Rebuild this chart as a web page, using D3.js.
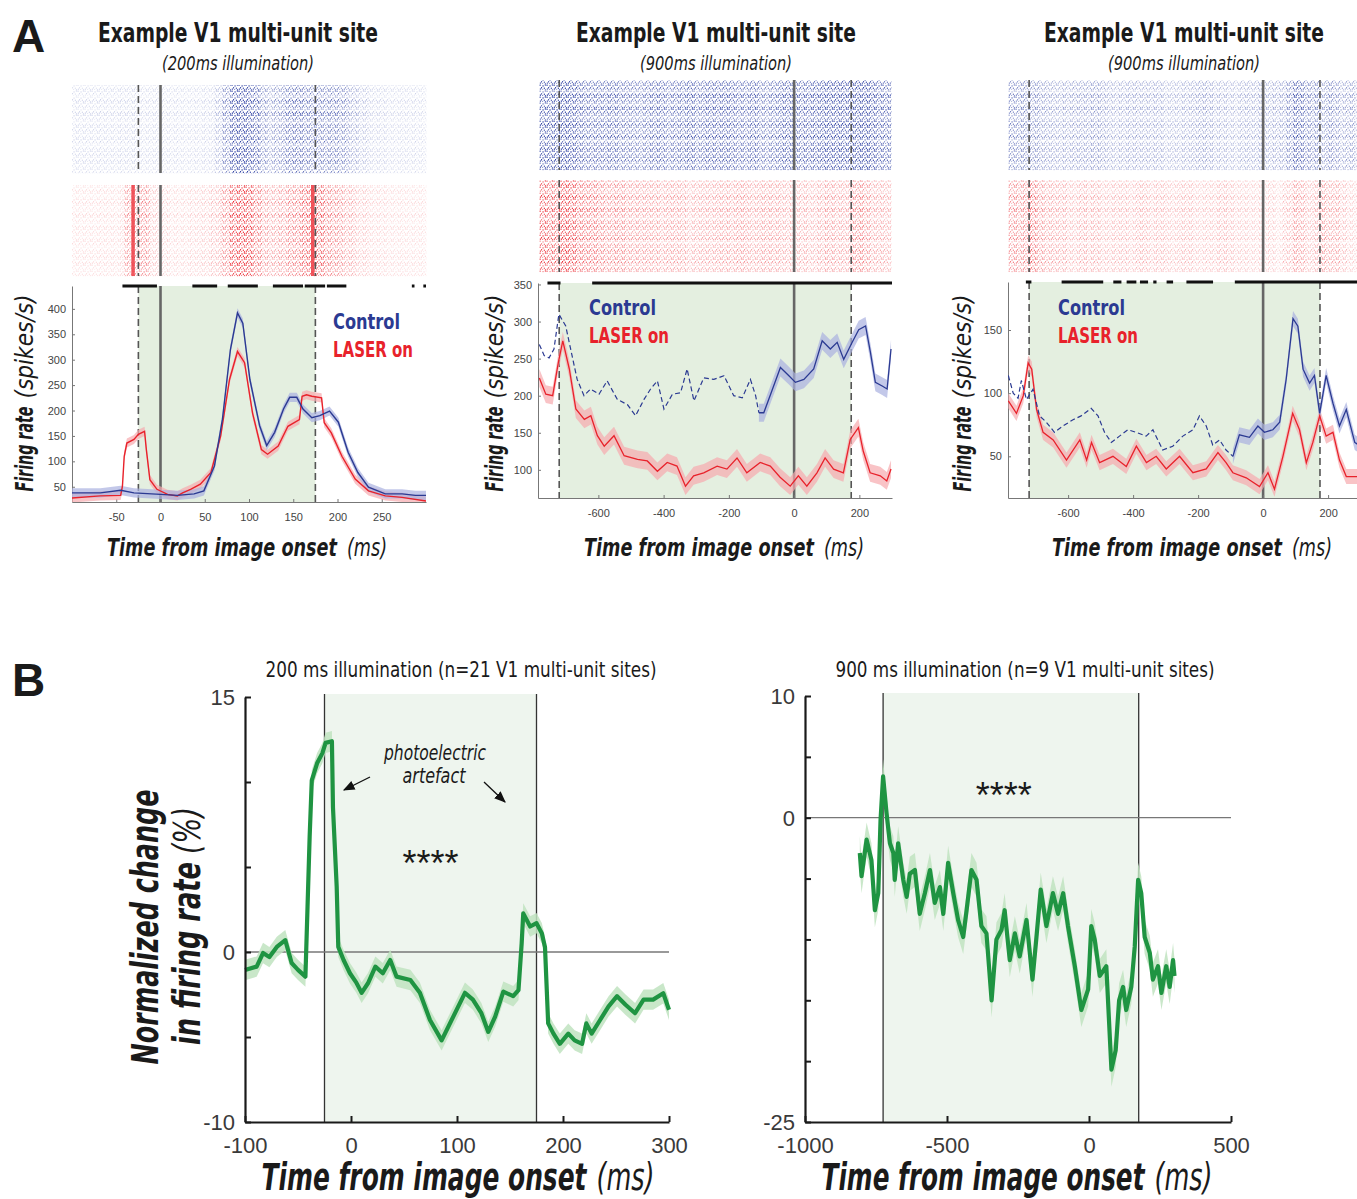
<!DOCTYPE html>
<html lang="en">
<head>
<meta charset="utf-8">
<title>V1 laser figure</title>
<script src="https://cdnjs.cloudflare.com/ajax/libs/d3/7.8.5/d3.min.js"></script>
<style>
  body { margin: 0; background: #fff; }
  svg { display: block; }
</style>
</head>
<body>
<script>
// ---------- data ----------
// panel A1 : 200 ms illumination, PSTH [time ms, spikes/s]
var a1Control = [[-100,38],[-68,38],[-45,43],[-30,38],[0,35],[19,33],[38,36],[49,42],[61,91],[70,183],[79,320],[87,392],[93,372],[101,261],[112,170],[120,131],[129,157],[139,203],[146,226],[154,226],[161,203],[171,186],[180,190],[191,199],[201,177],[212,118],[223,78],[235,49],[254,36],[273,36],[288,33],[300,33]];
var a1Laser = [[-100,28],[-68,32],[-45,33],[-43,51],[-41,110],[-38,136],[-30,143],[-25,153],[-18,159],[-16,123],[-12,64],[-4,45],[8,35],[19,32],[25,38],[34,45],[45,55],[57,78],[68,150],[78,261],[87,316],[95,294],[104,195],[114,123],[121,114],[133,130],[144,169],[157,182],[160,228],[165,231],[171,228],[182,225],[185,176],[193,156],[205,110],[220,65],[235,42],[254,32],[273,29],[300,22]];
var a1Sig = [[-43,-4],[36,64],[76,110],[127,161],[163,186],[188,210],[284,287],[297,300]];
var a1Artifacts = [-31, 172];
var a1XTicks = [-50, 0, 50, 100, 150, 200, 250];
var a1YTicks = [50, 100, 150, 200, 250, 300, 350, 400];

// panel A2 : 900 ms illumination
var a2Control = [[-781,269],[-766,254],[-751,251],[-736,263],[-721,310],[-700,294],[-685,263],[-665,222],[-644,200],[-624,209],[-598,202],[-573,220],[-542,195],[-511,188],[-486,173],[-460,195],[-440,209],[-419,220],[-399,182],[-373,202],[-348,204],[-328,236],[-307,193],[-277,224],[-246,222],[-215,227],[-185,200],[-159,197],[-134,222],[-118,200],[-108,177],[-93,177],[-72,202],[-42,238],[-16,227],[4,218],[30,222],[60,236],[86,274],[111,263],[132,272],[152,249],[178,272],[198,289],[219,294],[234,258],[249,218],[270,213],[285,209],[297,263]];
var a2Laser = [[-781,224],[-761,202],[-740,200],[-723,244],[-709,274],[-689,236],[-669,182],[-643,168],[-623,173],[-603,146],[-582,132],[-552,146],[-521,119],[-480,114],[-450,112],[-419,98],[-389,110],[-359,105],[-333,78],[-308,92],[-277,96],[-236,105],[-206,101],[-175,116],[-145,96],[-104,110],[-73,105],[-43,90],[-12,78],[13,92],[39,78],[70,96],[95,116],[121,101],[151,96],[172,141],[197,157],[212,125],[233,96],[264,92],[284,85],[297,101]];
var a2Sig = [[-756,-716],[-619,300]];
var a2YTicks = [100, 150, 200, 250, 300, 350];

// panel A3 : 900 ms illumination
var a3Control = [[-784,114],[-769,100],[-754,96],[-744,110],[-728,95],[-708,103],[-688,82],[-667,77],[-642,69],[-616,74],[-585,79],[-560,82],[-529,88],[-508,82],[-488,69],[-467,61],[-442,66],[-416,71],[-391,69],[-360,66],[-339,71],[-309,55],[-278,58],[-247,66],[-216,71],[-196,82],[-175,74],[-155,59],[-134,63],[-114,55],[-93,50],[-73,67],[-42,65],[-16,74],[4,69],[30,71],[51,77],[71,111],[92,159],[107,153],[123,119],[143,108],[158,114],[174,84],[194,114],[215,92],[235,74],[256,87],[282,61],[300,58]];
var a3Laser = [[-784,94],[-759,84],[-738,98],[-723,124],[-712,119],[-697,87],[-677,69],[-646,63],[-605,47],[-564,63],[-543,47],[-528,61],[-503,45],[-462,50],[-421,42],[-390,58],[-359,45],[-329,50],[-298,40],[-257,50],[-216,37],[-175,40],[-139,53],[-114,45],[-93,37],[-52,33],[-11,26],[15,37],[35,24],[61,50],[91,84],[112,71],[133,45],[153,61],[174,82],[194,66],[215,69],[235,47],[256,34],[300,34]];
var a3Sig = [[-730,-713],[-620,-492],[-461,-436],[-420,-390],[-379,-354],[-338,-328],[-297,-277],[-236,-154],[-87,300]];
var a3YTicks = [50, 100, 150];
var a23XTicks = [-600, -400, -200, 0, 200];

// panel B : normalized change in firing rate (%)
var b1Change = [[-100,-1.06],[-89,-0.86],[-83,-0.06],[-77,-0.3],[-70,0.3],[-62,0.7],[-56,-0.65],[-50,-1.05],[-43,-1.45],[-41,2.67],[-39,6.8],[-37,10.1],[-32,11.1],[-27,11.7],[-24,12.3],[-18,12.4],[-17,8.5],[-13.5,3.85],[-12,0.3],[-7,-0.47],[-1,-1.25],[5,-1.8],[10,-2.4],[16,-1.84],[23,-0.86],[30,-1.25],[37,-0.47],[43,-1.45],[56,-1.65],[65,-2.4],[74.5,-4.0],[85.5,-5.2],[96.5,-3.8],[107.5,-2.4],[115,-2.8],[123,-3.6],[129.5,-4.7],[136,-3.8],[143.7,-2.33],[153,-2.6],[158,-2.24],[161,0.5],[162.5,2.27],[169,1.5],[175,1.7],[180,1.1],[183,0.3],[186,-4.2],[191,-4.8],[197,-5.4],[205,-4.8],[211,-5.2],[218,-5.4],[222,-4.2],[227,-4.8],[235,-4],[243,-3.2],[251,-2.6],[259,-3.1],[268,-3.6],[276,-2.8],[285,-2.8],[294.6,-2.43],[300,-3.4]];
var b2Change = [[-807,-2.9],[-801,-4.8],[-783,-1.8],[-766,-3.5],[-754,-7.6],[-742,-6.2],[-734,-0.2],[-725,3.4],[-713,0.4],[-701,-2.1],[-689,-2.9],[-684,-5.1],[-672,-2.1],[-654,-5.1],[-642,-6.5],[-631,-4.6],[-613,-4.3],[-596,-7.9],[-578,-6.2],[-560,-4.3],[-543,-7.0],[-525,-5.7],[-513,-7.9],[-496,-3.7],[-478,-6.2],[-461,-8.4],[-443,-9.8],[-431,-7.6],[-414,-4.3],[-396,-5.1],[-379,-8.9],[-361,-9.5],[-343,-15.0],[-326,-10.0],[-308,-9.2],[-297,-7.6],[-279,-11.7],[-261,-9.5],[-244,-11.4],[-220,-8.4],[-199,-13.3],[-185,-9.8],[-170,-5.9],[-150,-8.9],[-127,-6.2],[-109,-7.9],[-91,-6.2],[-74,-8.9],[-50,-12.2],[-27,-15.8],[-3,-14.1],[8,-8.9],[20,-10.0],[38,-13.0],[61,-12.2],[79,-20.7],[94,-19.1],[106,-15.0],[120,-13.9],[131,-15.8],[149,-13.9],[161,-10.6],[173,-5.1],[184,-6.2],[196,-9.8],[214,-11.1],[225,-13.3],[243,-12.2],[255,-14.4],[272,-12.2],[284,-13.9],[296,-11.7],[301,-13.0]];
var b1XTicks = [-100, 0, 100, 200, 300];
var b1YTicks = [-10, -5, 0, 5, 10, 15];
var b1YLabels = [-10, 0, 15];
var b2XTicks = [-1000, -500, 0, 500];
var b2YTicks = [-25, -20, -15, -10, -5, 0, 5, 10];
var b2YLabels = [-25, 0, 10];

// raster texture: per-trial gain and dot layout of one tile
var trialGain = [0.9, 1.1, 0.7, 1.25, 1.0, 0.8, 1.3, 0.95, 0.75, 1.15, 1.05, 0.85, 1.25, 0.7, 1.0, 1.1, 0.9, 1.2, 0.8, 1.0];
var patternDots = [[0.5,0.5],[3.5,1.2],[5.8,0.2],[2.0,3.0],[4.8,3.6],[0.8,4.4],[6.2,5.0],[3.0,5.4]];

// ---------- drawing ----------
var CONDENSED = "'Liberation Sans Narrow','DejaVu Sans Condensed',sans-serif";
var HELV = "'Liberation Sans',Arial,sans-serif";
var BLUE = "#2b3a92", RED = "#e8222b", GREEN = "#1f9442";
var plain = function(d) { return String(d); };   // hyphen minus like the original

var svg = d3.select("body").append("svg")
    .attr("width", 1357)
    .attr("height", 1199);
var defs = svg.append("defs");

function makePattern(id, color) {
    var p = defs.append("pattern").attr("id", id)
        .attr("width", 7).attr("height", 6)
        .attr("patternUnits", "userSpaceOnUse");
    patternDots.forEach(function(d) {
        p.append("rect").attr("x", d[0]).attr("y", d[1])
            .attr("width", 1.1).attr("height", 1.5).attr("fill", color);
    });
}
makePattern("dotsBlue", "#3446a6");
makePattern("dotsRed", "#ec2a33");

// parts: [text, bold, italic, textLength, dx]
function label(g, x, y, size, parts, opts) {
    opts = opts || {};
    var t = g.append("text").attr("x", x).attr("y", y)
        .attr("font-family", opts.family || CONDENSED)
        .attr("font-size", size)
        .attr("fill", opts.fill || "#1a1a1a")
        .attr("text-anchor", opts.anchor || "middle");
    if (opts.rotate) t.attr("transform", "rotate(-90," + x + "," + y + ")");
    if (opts.len) t.attr("textLength", opts.len).attr("lengthAdjust", "spacingAndGlyphs");
    parts.forEach(function(p) {
        var s = t.append("tspan").text(p[0])
            .attr("font-weight", p[1] ? "bold" : "normal")
            .attr("font-style", p[2] ? "italic" : "normal");
        if (p[3]) s.attr("textLength", p[3]).attr("lengthAdjust", "spacingAndGlyphs");
        if (p[4]) s.attr("dx", p[4]);
    });
    return t;
}

function drawRaster(g, x, data, top, bottom, pat, op) {
    var rowH = (bottom - top) / trialGain.length;
    trialGain.forEach(function(gain, j) {
        for (var i = 0; i < data.length - 1; i++) {
            g.append("rect")
                .attr("x", x(data[i][0]))
                .attr("y", top + j * rowH)
                .attr("width", x(data[i + 1][0]) - x(data[i][0]) + 0.3)
                .attr("height", rowH + 0.2)
                .attr("fill", "url(#" + pat + ")")
                .attr("opacity", Math.min(1, op(data[i][1]) * gain));
        }
    });
}

function drawPanelA(c) {
    var g = svg.append("g");
    var x = d3.scaleLinear().domain(c.xDom).range([c.x0, c.x1]);
    var y = d3.scaleLinear().domain(c.yDom).range([c.bottom, c.top]);
    var clipId = "clip" + c.id;
    defs.append("clipPath").attr("id", clipId).append("rect")
        .attr("x", c.x0).attr("y", c.top - 2).attr("width", c.x1 - c.x0).attr("height", c.bottom - c.top + 2);

    // titles
    label(g, c.cx, 42, 26, [["Example V1 multi-unit site", true, false]], {len: 280});
    label(g, c.cx, 70, 19, [[c.subtitle, false, true]], {len: 152});

    // rasters
    var op = d3.scaleLinear().domain([0, c.opMax]).range([0.06, 1]).clamp(true);
    drawRaster(g, x, c.control, c.rb[0], c.rb[1], "dotsBlue", op);
    drawRaster(g, x, c.laser, c.rr[0], c.rr[1], "dotsRed", op);
    (c.artifacts || []).forEach(function(t) {
        g.append("line").attr("x1", x(t)).attr("x2", x(t)).attr("y1", c.rr[0]).attr("y2", c.rr[1])
            .attr("stroke", "#ee3c44").attr("stroke-width", 3.5).attr("opacity", 0.85);
    });

    // illumination shading
    g.append("rect").attr("x", x(c.light[0])).attr("y", c.top)
        .attr("width", x(c.light[1]) - x(c.light[0])).attr("height", c.bottom - c.top)
        .attr("fill", "#e4efe0");

    // event lines through rasters and PSTH
    [[c.rb[0], c.rb[1]], [c.rr[0], c.rr[1]], [c.top, c.bottom]].forEach(function(s) {
        c.light.forEach(function(t) {
            g.append("line").attr("x1", x(t)).attr("x2", x(t)).attr("y1", s[0]).attr("y2", s[1])
                .attr("stroke", "#555").attr("stroke-width", 1.6).attr("stroke-dasharray", "7,4");
        });
        g.append("line").attr("x1", x(0)).attr("x2", x(0)).attr("y1", s[0]).attr("y2", s[1])
            .attr("stroke", "#666").attr("stroke-width", 2.6);
    });

    // axes
    var ya = g.append("g").attr("transform", "translate(" + c.x0 + ",0)")
        .call(d3.axisLeft(y).tickValues(c.yTicks).tickFormat(plain).tickSizeInner(-3).tickSizeOuter(0).tickPadding(6));
    var xa = g.append("g").attr("transform", "translate(0," + c.bottom + ")")
        .call(d3.axisBottom(x).tickValues(c.xTicks).tickFormat(plain).tickSizeInner(-3).tickSizeOuter(0).tickPadding(11));
    [ya, xa].forEach(function(a) {
        a.selectAll("path,line").attr("stroke", "#777");
        a.selectAll("text").attr("font-family", HELV).attr("font-size", 11).attr("fill", "#444");
    });

    // data
    var pg = g.append("g").attr("clip-path", "url(#" + clipId + ")");
    var line = d3.line().x(function(d) { return x(d[0]); }).y(function(d) { return y(d[1]); });
    var band = function(sem) {
        return d3.area().x(function(d) { return x(d[0]); })
            .y0(function(d) { return y(d[1] - sem); }).y1(function(d) { return y(d[1] + sem); });
    };
    var ctrlSolid = c.control.filter(function(d) { return d[0] >= c.solidFrom; });
    var ctrlDash = c.control.filter(function(d) { return d[0] <= c.solidFrom; });
    pg.append("path").datum(c.laser).attr("d", band(c.sem)).attr("fill", "#f6a9ae").attr("opacity", 0.7);
    pg.append("path").datum(ctrlSolid).attr("d", band(c.sem)).attr("fill", "#a9b0e0").attr("opacity", 0.7);
    pg.append("path").datum(c.laser).attr("d", line).attr("fill", "none").attr("stroke", RED).attr("stroke-width", c.lw);
    pg.append("path").datum(ctrlSolid).attr("d", line).attr("fill", "none").attr("stroke", BLUE).attr("stroke-width", c.lw);
    if (ctrlDash.length > 1) {
        pg.append("path").datum(ctrlDash).attr("d", line).attr("fill", "none").attr("stroke", BLUE)
            .attr("stroke-width", 1.2).attr("stroke-dasharray", "5,3");
    }

    // significance bars
    c.sig.forEach(function(s) {
        g.append("line").attr("x1", x(s[0])).attr("x2", x(s[1])).attr("y1", c.top).attr("y2", c.top)
            .attr("stroke", "#111").attr("stroke-width", 3);
    });

    // legend
    label(g, c.legX, c.legY, 22, [["Control", true, false]], {anchor: "start", fill: BLUE, len: 67});
    label(g, c.legX, c.legY + 28, 22, [["LASER on", true, false]], {anchor: "start", fill: RED, len: 80});

    // axis labels
    label(g, c.ylx, 393, 24, [["Firing rate", true, true, 85], ["(spikes/s)", false, true, 104, 8]], {rotate: true});
    label(g, c.xlx, 556, 24, [["Time from image onset", true, true, 230], ["(ms)", false, true, 40, 10]]);
}

drawPanelA({id: "a1", x0: 72, x1: 426, xDom: [-100, 300], top: 286, bottom: 502, yDom: [20, 445],
    rb: [85, 173], rr: [185, 276], light: [-25, 175], control: a1Control, laser: a1Laser, sig: a1Sig,
    artifacts: a1Artifacts,
    solidFrom: -1000, sem: 9, lw: 1.4, opMax: 330, xTicks: a1XTicks, yTicks: a1YTicks,
    cx: 238, subtitle: "(200ms illumination)", legX: 333, legY: 329, ylx: 33, xlx: 247});
drawPanelA({id: "a2", x0: 538, x1: 892, xDom: [-785, 300], top: 283, bottom: 498, yDom: [62, 352],
    rb: [80, 170], rr: [180, 272], light: [-720, 175], control: a2Control, laser: a2Laser, sig: a2Sig,
    solidFrom: -108, sem: 12, lw: 1.3, opMax: 300, xTicks: a23XTicks, yTicks: a2YTicks,
    cx: 716, subtitle: "(900ms illumination)", legX: 589, legY: 315, ylx: 503, xlx: 724});
drawPanelA({id: "a3", x0: 1008, x1: 1360.6, xDom: [-785, 300], top: 282, bottom: 498, yDom: [17, 188],
    rb: [80, 170], rr: [180, 272], light: [-720, 175], control: a3Control, laser: a3Laser, sig: a3Sig,
    solidFrom: -93, sem: 6, lw: 1.3, opMax: 200, xTicks: a23XTicks, yTicks: a3YTicks,
    cx: 1184, subtitle: "(900ms illumination)", legX: 1058, legY: 315, ylx: 971, xlx: 1192});

function drawPanelB(c) {
    var g = svg.append("g");
    var x = d3.scaleLinear().domain(c.xDom).range([c.x0, c.x1]);
    var y = d3.scaleLinear().domain(c.yDom).range([1122, c.top]);

    g.append("rect").attr("x", x(c.light[0])).attr("y", c.top - 3)
        .attr("width", x(c.light[1]) - x(c.light[0])).attr("height", 1122 - c.top + 3)
        .attr("fill", "#eef5ee");
    c.light.forEach(function(t) {
        g.append("line").attr("x1", x(t)).attr("x2", x(t)).attr("y1", c.top - 3).attr("y2", 1122)
            .attr("stroke", "#333").attr("stroke-width", 1.3);
    });
    g.append("line").attr("x1", c.x0).attr("x2", c.x1).attr("y1", y(0)).attr("y2", y(0))
        .attr("stroke", "#777").attr("stroke-width", 1.3);

    var band = d3.area().x(function(d) { return x(d[0]); })
        .y0(function(d) { return y(d[1] - c.sem); }).y1(function(d) { return y(d[1] + c.sem); });
    var line = d3.line().x(function(d) { return x(d[0]); }).y(function(d) { return y(d[1]); });
    g.append("path").datum(c.data).attr("d", band).attr("fill", "#bfe3bf").attr("opacity", 0.85);
    g.append("path").datum(c.data).attr("d", line).attr("fill", "none")
        .attr("stroke", GREEN).attr("stroke-width", 4.2).attr("stroke-linejoin", "round");

    var ya = g.append("g").attr("transform", "translate(" + c.x0 + ",0)")
        .call(d3.axisLeft(y).tickValues(c.yTicks).tickSizeInner(-6).tickSizeOuter(0).tickPadding(10)
            .tickFormat(function(d) { return c.yLabels.indexOf(d) >= 0 ? String(d) : ""; }));
    var xa = g.append("g").attr("transform", "translate(0,1122)")
        .call(d3.axisBottom(x).tickValues(c.xTicks).tickFormat(plain).tickSizeInner(-6).tickSizeOuter(0).tickPadding(15));
    [ya, xa].forEach(function(a) {
        a.selectAll("path").attr("stroke", "#1a1a1a").attr("stroke-width", 2.2);
        a.selectAll("line").attr("stroke", "#1a1a1a").attr("stroke-width", 2);
        a.selectAll("text").attr("font-family", HELV).attr("font-size", 22).attr("fill", "#3a3a3a");
    });
    ya.selectAll("text").attr("dy", "0.36em");

    label(g, c.titleX, 677, 22, [[c.title, false, false]], {len: c.titleLen});
    label(g, c.xlx, 1190, 37, [["Time from image onset", true, true, c.xlLen - 68], ["(ms)", false, true, 58, 10]]);
    label(g, x(c.starsAt[0]), c.starsAt[1], 36, [["****", false, false]], {family: HELV});
}

drawPanelB({x0: 245, x1: 669, xDom: [-100, 300], top: 697, yDom: [-10, 15], light: [-25, 175],
    data: b1Change, sem: 0.6, xTicks: b1XTicks, yTicks: b1YTicks, yLabels: b1YLabels,
    title: "200 ms illumination (n=21 V1 multi-unit sites)", titleX: 461, titleLen: 391,
    xlx: 458, xlLen: 393, starsAt: [75, 876]});
drawPanelB({x0: 805, x1: 1231, xDom: [-1000, 500], top: 696, yDom: [-25, 10], light: [-725, 175],
    data: b2Change, sem: 1.4, xTicks: b2XTicks, yTicks: b2YTicks, yLabels: b2YLabels,
    title: "900 ms illumination (n=9 V1 multi-unit sites)", titleX: 1025, titleLen: 379,
    xlx: 1017, xlLen: 391, starsAt: [-300, 808]});

// B y label and annotations
label(svg, 158, 927, 37, [["Normalized change", true, true]], {rotate: true, len: 275});
label(svg, 200, 926, 37, [["in firing rate", true, true, 183], ["(%)", false, true, 47, 8]], {rotate: true});
label(svg, 435, 760, 21, [["photoelectric", false, true]], {len: 102});
label(svg, 434, 783, 21, [["artefact", false, true]], {len: 63});

defs.append("marker").attr("id", "arrow").attr("viewBox", "0 0 10 10").attr("refX", 9).attr("refY", 5)
    .attr("markerWidth", 9).attr("markerHeight", 9).attr("orient", "auto")
    .append("path").attr("d", "M0,1 L10,5 L0,9 Z").attr("fill", "#111");
[[[370, 777], [344, 790]], [[484, 782], [505, 802]]].forEach(function(a) {
    svg.append("line").attr("x1", a[0][0]).attr("y1", a[0][1]).attr("x2", a[1][0]).attr("y2", a[1][1])
        .attr("stroke", "#111").attr("stroke-width", 1.3).attr("marker-end", "url(#arrow)");
});

// panel letters
label(svg, 12, 52, 46, [["A", true, false]], {anchor: "start", family: HELV});
label(svg, 12, 696, 46, [["B", true, false]], {anchor: "start", family: HELV});
</script>
</body>
</html>
